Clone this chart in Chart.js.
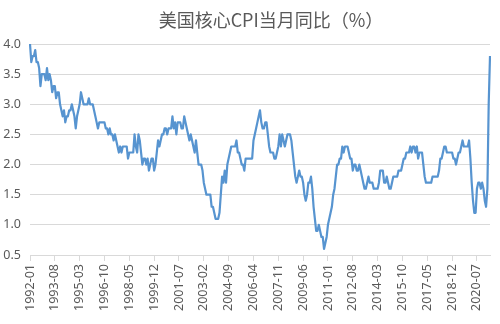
<!DOCTYPE html>
<html>
<head>
<meta charset="utf-8">
<script src="https://cdn.jsdelivr.net/npm/chart.js@4.4.0/dist/chart.umd.min.js"></script>
<style>
  html, body { margin: 0; padding: 0; background: #fff; }
  #wrap { width: 500px; height: 324px; }
</style>
</head>
<body>
<div id="wrap"><canvas id="cpiChart" width="500" height="324"></canvas></div>
<script>
// ── Data: US core CPI, year-on-year %, monthly from 1992-01 ──
const chartTitle = '美国核心CPI当月同比（%）';
const startYear = 1992;
const labelEvery = 19;
const yTicks = [0.5, 1.0, 1.5, 2.0, 2.5, 3.0, 3.5, 4.0];

const core1990s = [
  4.0,3.7,3.8,3.8,3.9,3.7,3.7,3.6,3.3,3.5,3.5,3.5,   // 1992
  3.4,3.6,3.4,3.5,3.4,3.2,3.3,3.3,3.1,3.2,3.2,3.0,   // 1993
  2.9,2.8,2.9,2.7,2.8,2.8,2.9,2.9,3.0,2.9,2.8,2.6,   // 1994
  2.8,2.9,3.0,3.2,3.1,3.0,3.0,3.0,3.0,3.1,3.0,3.0,   // 1995
  3.0,2.9,2.8,2.7,2.6,2.7,2.7,2.7,2.7,2.7,2.6,2.6,   // 1996
  2.5,2.6,2.5,2.5,2.4,2.5,2.4,2.3,2.2,2.3,2.2,2.3,   // 1997
  2.3,2.3,2.3,2.1,2.2,2.2,2.2,2.2,2.5,2.3,2.2,2.5,   // 1998
  2.4,2.2,2.0,2.1,2.1,2.0,2.1,1.9,2.0,2.1,2.1,1.9    // 1999
];
const core2000s = [
  2.0,2.2,2.4,2.3,2.4,2.5,2.5,2.6,2.6,2.5,2.6,2.6,   // 2000
  2.6,2.8,2.6,2.7,2.5,2.7,2.7,2.7,2.6,2.6,2.8,2.7,   // 2001
  2.6,2.5,2.4,2.5,2.4,2.3,2.2,2.4,2.2,2.0,2.0,2.0,   // 2002
  1.9,1.7,1.6,1.5,1.5,1.5,1.5,1.3,1.3,1.2,1.1,1.1,   // 2003
  1.1,1.2,1.5,1.8,1.7,1.9,1.7,2.0,2.1,2.2,2.3,2.3,   // 2004
  2.3,2.3,2.4,2.2,2.2,2.1,2.0,2.0,1.9,2.1,2.1,2.1,   // 2005
  2.1,2.1,2.1,2.4,2.5,2.6,2.7,2.8,2.9,2.7,2.6,2.6,   // 2006
  2.7,2.7,2.5,2.3,2.2,2.2,2.2,2.1,2.1,2.2,2.3,2.5,   // 2007
  2.3,2.5,2.4,2.3,2.4,2.5,2.5,2.5,2.4,2.2,2.0,1.8,   // 2008
  1.7,1.8,1.9,1.8,1.8,1.7,1.5,1.4,1.5,1.7,1.7,1.8    // 2009
];
const core2010s = [
  1.6,1.3,1.1,0.9,0.9,1.0,0.9,0.8,0.8,0.6,0.7,0.8,   // 2010
  1.0,1.1,1.2,1.3,1.5,1.6,1.8,2.0,2.0,2.1,2.1,2.3,   // 2011
  2.2,2.3,2.3,2.3,2.2,2.1,2.1,1.9,2.0,2.0,1.9,1.9,   // 2012
  2.0,1.9,1.8,1.7,1.6,1.6,1.7,1.8,1.7,1.7,1.7,1.6,   // 2013
  1.6,1.6,1.6,1.7,1.9,1.9,1.9,1.7,1.7,1.8,1.7,1.6,   // 2014
  1.6,1.7,1.8,1.8,1.8,1.8,1.9,1.9,1.9,2.0,2.1,2.1,   // 2015
  2.2,2.2,2.2,2.3,2.2,2.3,2.3,2.2,2.3,2.1,2.2,2.2,   // 2016
  2.2,2.0,1.8,1.7,1.7,1.7,1.7,1.7,1.8,1.8,1.8,1.8,   // 2017
  1.8,1.9,2.1,2.1,2.2,2.3,2.3,2.2,2.2,2.2,2.2,2.2,   // 2018
  2.1,2.1,2.0,2.1,2.2,2.2,2.3,2.4,2.3,2.3,2.3,2.3    // 2019
];
const core2020s = [
  2.4,2.1,1.7,1.4,1.2,1.2,1.6,1.7,1.7,1.6,1.7,1.6,   // 2020
  1.4,1.3,1.6,3.0,3.8                                // 2021
];

const coreCpi = [...core1990s, ...core2000s, ...core2010s, ...core2020s];

// month labels "YYYY-MM"
const months = coreCpi.map((_, i) => {
  const y = startYear + Math.floor(i / 12);
  const m = String(i % 12 + 1).padStart(2, '0');
  return y + '-' + m;
});

const textColor = '#595959';
const gridColor = '#d9d9d9';
const tickFont = { family: 'Noto Sans', size: 12.5 };

// ── Title drawn over the plot, slightly right of centre ──────
const titlePlugin = {
  id: 'chartTitle',
  afterDraw(chart) {
    const c = chart.ctx;
    c.save();
    c.font = '18px "Noto Sans CJK SC"';
    c.fillStyle = textColor;
    c.textAlign = 'center';
    c.textBaseline = 'middle';
    c.fillText(chartTitle, 271, 20);
    c.restore();
  }
};

new Chart(document.getElementById('cpiChart'), {
  type: 'line',
  data: {
    labels: months,
    datasets: [{
      data: coreCpi,
      borderColor: '#5794d0',
      borderWidth: 2.2,
      borderJoinStyle: 'round',
      pointRadius: 0,
      tension: 0,
      fill: false
    }]
  },
  options: {
    responsive: false,
    animation: false,
    layout: { padding: { top: 44, right: 10, left: 0, bottom: 0 } },
    plugins: { legend: { display: false }, tooltip: { enabled: false } },
    scales: {
      x: {
        offset: false,
        afterBuildTicks: axis => { axis.ticks = axis.ticks.filter(t => t.value % labelEvery === 0); },
        afterFit: s => { s.height = 69; },
        grid: { display: true, drawOnChartArea: false, drawTicks: true, tickLength: 6, color: gridColor },
        border: { display: true, color: gridColor },
        ticks: {
          autoSkip: false, minRotation: 90, maxRotation: 90, padding: 3,
          color: textColor, font: tickFont,
          callback(value) { return months[value]; }
        }
      },
      y: {
        min: 0.5, max: 4.0,
        afterBuildTicks: axis => { axis.ticks = yTicks.map(v => ({ value: v })); },
        afterFit: s => { s.width = 30; },
        grid: { color: gridColor, drawTicks: false },
        border: { display: false },
        ticks: {
          padding: 9, color: textColor, font: tickFont,
          callback: v => Number(v).toFixed(1)
        }
      }
    }
  },
  plugins: [titlePlugin]
});
</script>
</body>
</html>
